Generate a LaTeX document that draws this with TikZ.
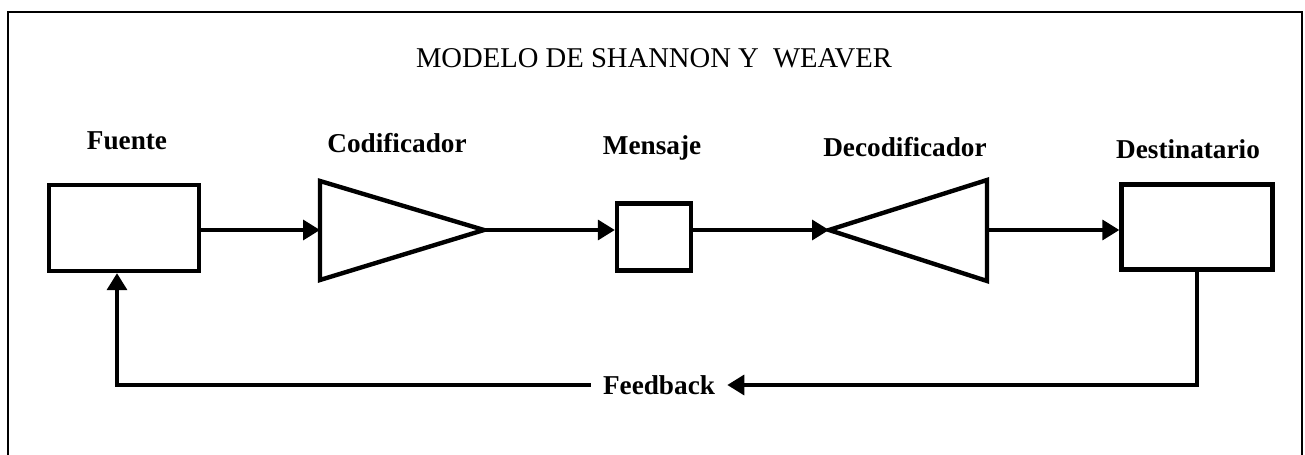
\documentclass[tikz,border=0pt]{standalone}
\usepackage{fontspec}
\setmainfont{Liberation Serif}
\usetikzlibrary{arrows.meta}

\begin{document}
\begin{tikzpicture}[x=0.02cm,y=-0.02cm,
  font=\fontsize{15.5}{18}\selectfont,
  caja/.style={draw,line width=2.5pt,inner sep=0pt},
  triang/.style={draw,line width=2.5pt},
  lbl/.style={font=\fontsize{15.5}{18}\selectfont\bfseries,anchor=base},
  flecha/.style={line width=2pt,-{Triangle[length=0.34cm,width=0.4cm]}}
]
  \useasboundingbox (0,0) rectangle (1305,455);
  \draw[line width=1.4pt] (8,12) rectangle (1302,480);

  \node[anchor=base,font=\fontsize{16.3}{19}\selectfont] (titulo) at (654,68) {MODELO DE SHANNON Y\ \ WEAVER};

  % bloques
  \node[caja,minimum width=3cm,minimum height=1.72cm] (fuente) at (124,228) {};
  \node[caja,minimum width=1.48cm,minimum height=1.34cm] (mensaje) at (654,237) {};
  \node[caja,minimum width=3.02cm,minimum height=1.7cm] (destino) at (1197,227) {};
  \draw[triang] (320,181) -- (484,230) -- (320,280) -- cycle;
  \draw[triang] (829,230) -- (987,180) -- (987,281) -- cycle;
  \coordinate (cod-in) at (320,230);
  \coordinate (cod-out) at (484,230);
  \coordinate (dec-in) at (829,230);
  \coordinate (dec-out) at (987,230);

  % etiquetas
  \node[lbl] (l-fuente) at (127,150) {Fuente};
  \node[lbl] (l-cod) at (397,153) {Codificador};
  \node[lbl] (l-men) at (652,155) {Mensaje};
  \node[lbl] (l-dec) at (905,157) {Decodificador};
  \node[lbl] (l-des) at (1188,159) {Destinatario};
  \node[lbl,anchor=center,inner xsep=0.24cm] (feedback) at (659,385) {Feedback};

  % flechas
  \draw[flecha] (fuente.east |- cod-in) -- (cod-in);
  \draw[flecha] (cod-out) -- (cod-out -| mensaje.west);
  \draw[flecha] (mensaje.east |- dec-in) -- (dec-in);
  \draw[flecha] (dec-out) -- (dec-out -| destino.west);
  \coordinate (retorno) at (117,385);
  \draw[flecha] (destino.south) |- (feedback.east);
  \draw[flecha] (feedback.west) -- (retorno) -- (retorno |- fuente.south);
\end{tikzpicture}
\end{document}
